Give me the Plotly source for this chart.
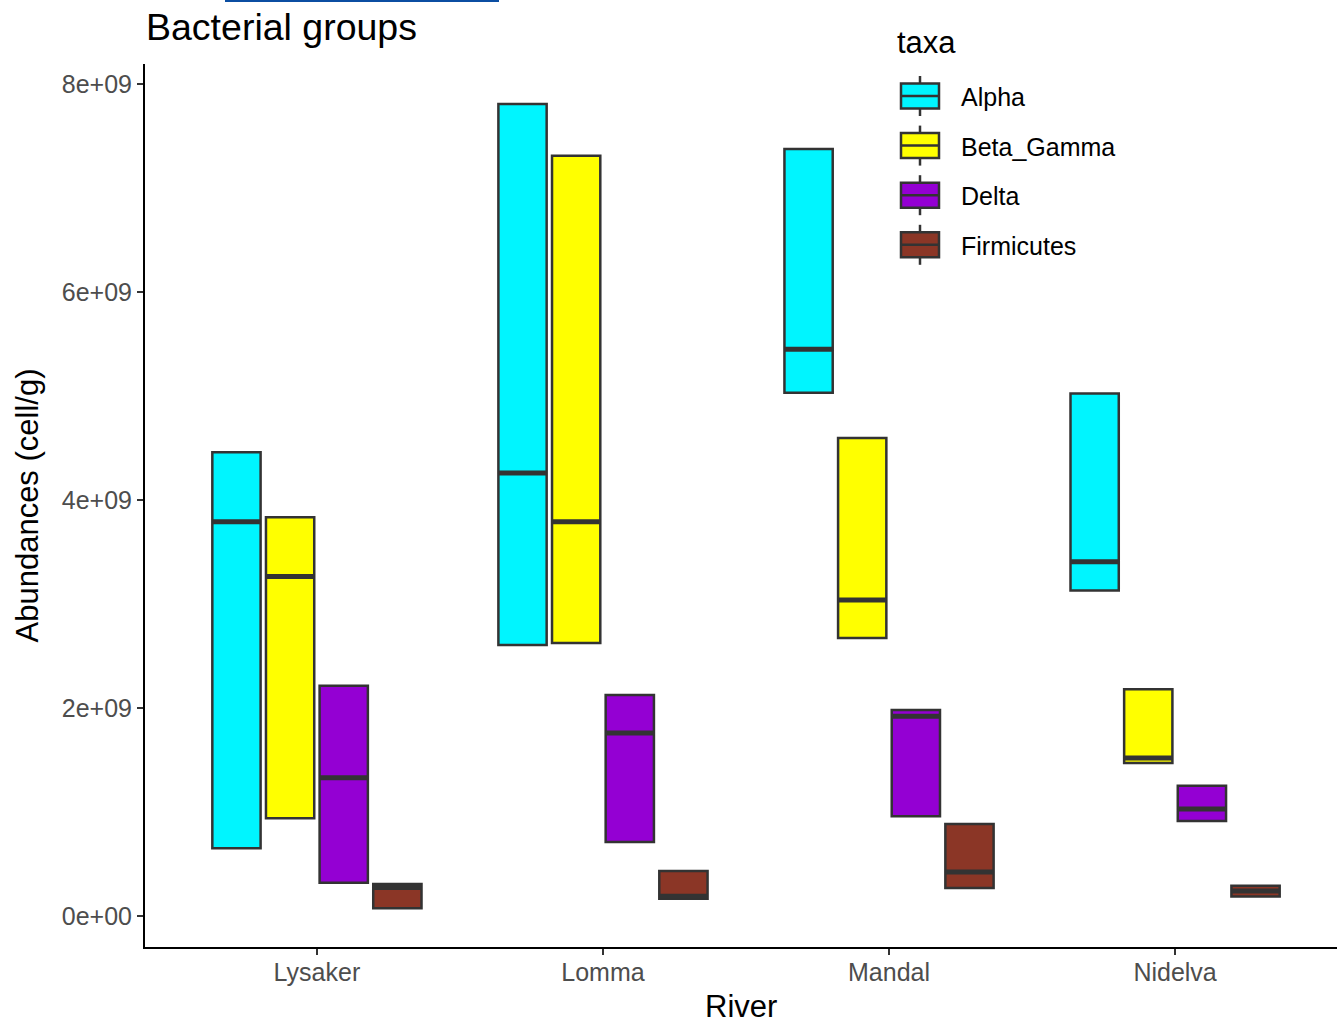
import plotly.graph_objects as go

# ---- data: hinges and medians of abundance (cells per gram) ----
rivers = ["Lysaker", "Lomma", "Mandal", "Nidelva"]
taxa = ["Alpha", "Beta_Gamma", "Delta", "Firmicutes"]
fill_colors = ["#00F5FF", "#FFFF00", "#9400D3", "#8B3626"]

alpha_q1 = [0.652e9, 2.606e9, 5.03e9, 3.13e9]
alpha_med = [3.79e9, 4.26e9, 5.45e9, 3.405e9]
alpha_q3 = [4.46e9, 7.808e9, 7.375e9, 5.025e9]

beta_q1 = [0.94e9, 2.625e9, 2.673e9, 1.47e9]
beta_med = [3.265e9, 3.79e9, 3.038e9, 1.52e9]
beta_q3 = [3.835e9, 7.31e9, 4.596e9, 2.18e9]

delta_q1 = [0.32e9, 0.712e9, 0.96e9, 0.913e9]
delta_med = [1.33e9, 1.76e9, 1.92e9, 1.03e9]
delta_q3 = [2.213e9, 2.125e9, 1.98e9, 1.252e9]

firm_q1 = [0.074e9, 0.165e9, 0.27e9, 0.187e9]
firm_med = [0.275e9, 0.19e9, 0.423e9, 0.24e9]
firm_q3 = [0.308e9, 0.433e9, 0.885e9, 0.29e9]

y_tick_vals = [0, 2e9, 4e9, 6e9, 8e9]
y_tick_text = ["0e+00", "2e+09", "4e+09", "6e+09", "8e+09"]

stats = {
    "Alpha": (alpha_q1, alpha_med, alpha_q3),
    "Beta_Gamma": (beta_q1, beta_med, beta_q3),
    "Delta": (delta_q1, delta_med, delta_q3),
    "Firmicutes": (firm_q1, firm_med, firm_q3),
}

FONT = "Liberation Sans, Arial, sans-serif"
OUTLINE = "#333333"

# ---- page geometry (pixels) ----
W, H = 1337, 1023
L, R, T, B = 145, 0, 64, 76
PW, PH = W - L - R, H - T - B


def px_x(p):
    return (p - L) / PW


def px_y(p):
    return (T + PH - p) / PH


fig = go.Figure()

# boxes (hinges only, whiskers collapse onto the hinges)
for name, col in zip(taxa, fill_colors):
    q1, med, q3 = stats[name]
    fig.add_trace(go.Box(
        x=rivers, q1=q1, median=med, q3=q3,
        lowerfence=q1, upperfence=q3,
        name=name, offsetgroup=name, alignmentgroup="all",
        fillcolor=col, line=dict(color=OUTLINE, width=2.5),
        whiskerwidth=0, boxpoints=False, showlegend=False,
    ))

# heavier median bars drawn on top of each box
for name in taxa:
    q1, med, q3 = stats[name]
    fig.add_trace(go.Box(
        x=rivers, q1=med, median=med, q3=med,
        lowerfence=med, upperfence=med,
        name=name + " median", offsetgroup=name, alignmentgroup="all",
        fillcolor="rgba(0,0,0,0)", line=dict(color=OUTLINE, width=5),
        whiskerwidth=0, boxpoints=False, showlegend=False, hoverinfo="skip",
    ))

# ---- hand-built legend with large box keys ----
shapes = []
annotations = []
annotations.append(dict(
    text="taxa", xref="paper", yref="paper", x=px_x(895), y=px_y(42),
    xanchor="left", yanchor="middle", showarrow=False,
    font=dict(family=FONT, size=31, color="black"),
))
for i, (name, col) in enumerate(zip(taxa, fill_colors)):
    cy = 96 + 49.6 * i
    kx0, kx1 = 901, 939
    kmid = (kx0 + kx1) / 2
    shapes.append(dict(type="line", xref="paper", yref="paper",
                       x0=px_x(kmid), x1=px_x(kmid), y0=px_y(cy - 20), y1=px_y(cy + 20),
                       line=dict(color=OUTLINE, width=2.5)))
    shapes.append(dict(type="rect", xref="paper", yref="paper",
                       x0=px_x(kx0), x1=px_x(kx1), y0=px_y(cy - 12.5), y1=px_y(cy + 12.5),
                       fillcolor=col, line=dict(color=OUTLINE, width=2.5)))
    shapes.append(dict(type="line", xref="paper", yref="paper",
                       x0=px_x(kx0), x1=px_x(kx1), y0=px_y(cy), y1=px_y(cy),
                       line=dict(color=OUTLINE, width=2.5)))
    annotations.append(dict(
        text=name, xref="paper", yref="paper", x=px_x(959), y=px_y(cy + 1),
        xanchor="left", yanchor="middle", showarrow=False,
        font=dict(family=FONT, size=25, color="black"),
    ))

# x-axis title placed below the tick labels
annotations.append(dict(
    text="River", xref="paper", yref="paper", x=0.5, y=px_y(1006),
    xanchor="center", yanchor="middle", showarrow=False, borderpad=0,
    font=dict(family=FONT, size=31, color="black"),
))

# thin blue rule at the top edge
shapes.append(dict(type="rect", xref="paper", yref="paper",
                   x0=px_x(225), x1=px_x(499), y0=px_y(0), y1=px_y(2),
                   fillcolor="#0B4EA2", line=dict(width=0)))

fig.update_layout(
    width=W, height=H,
    margin=dict(l=L, r=R, t=T, b=B, autoexpand=False),
    paper_bgcolor="white", plot_bgcolor="white",
    boxmode="group", boxgap=0.25, boxgroupgap=0.1,
    showlegend=False,
    font=dict(family=FONT),
    title=dict(text="Bacterial groups", x=px_x(146), xref="paper", xanchor="left",
               y=1 - 27 / H, yref="container", yanchor="middle",
               font=dict(family=FONT, size=37.5, color="black")),
    shapes=shapes, annotations=annotations,
    xaxis=dict(
        type="category", categoryorder="array", categoryarray=rivers,
        range=[-0.601, 3.566], showgrid=False, zeroline=False,
        showline=True, linecolor="black", linewidth=2,
        ticks="outside", ticklen=6, tickwidth=2, tickcolor=OUTLINE,
        ticklabelstandoff=-4,
        tickfont=dict(family=FONT, size=25, color="#4D4D4D"),
        automargin=False,
    ),
    yaxis=dict(
        range=[-0.298e9, 8.192e9], showgrid=False, zeroline=False,
        showline=True, linecolor="black", linewidth=2,
        ticks="outside", ticklen=6, tickwidth=2, tickcolor=OUTLINE,
        tickvals=y_tick_vals, ticktext=y_tick_text,
        tickfont=dict(family=FONT, size=25, color="#4D4D4D"),
        title=dict(text="Abundances (cell/g)", font=dict(family=FONT, size=31, color="black"), standoff=14),
        automargin=False,
    ),
)

fig.write_html("out.html")
